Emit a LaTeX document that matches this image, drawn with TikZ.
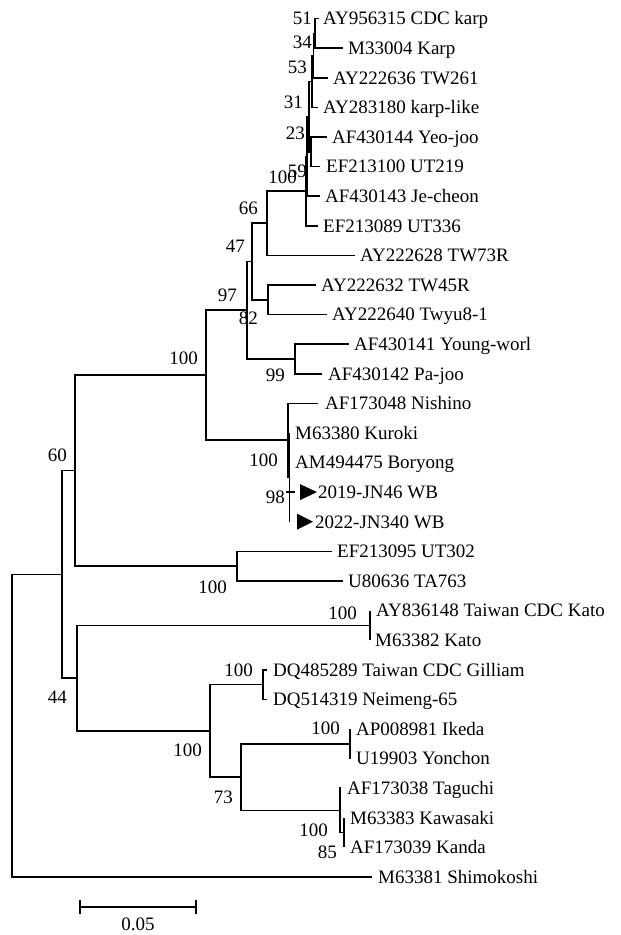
\documentclass[tikz,border=0pt]{standalone}
\usepackage{fontspec}
\setmainfont{Liberation Serif}
\begin{document}
\begin{tikzpicture}[x=1pt,y=-1pt,
  br/.style={line width=1.6pt, line join=miter},
  lab/.style={anchor=base west, yshift=-6.3pt, inner sep=0pt, font=\fontsize{19}{22}\selectfont},
  bs/.style={anchor=base east, yshift=-6.3pt, inner sep=0pt, font=\fontsize{19}{22}\selectfont},
  tri/.style={fill=black}]
\useasboundingbox (0,0) rectangle (621,935);
% internal nodes
\coordinate (root) at (12,725.6);
\coordinate (nA) at (62,574.4);
\coordinate (n60) at (75,470.6);
\coordinate (n100a) at (206,375.1);
\coordinate (n97) at (247,310.2);
\coordinate (n47) at (252,261.4);
\coordinate (n66) at (267,223.2);
\coordinate (n100t) at (306,191.0);
\coordinate (n59) at (307,156.3);
\coordinate (n31) at (309,116.55);
\coordinate (n53) at (312,81.4);
\coordinate (n34) at (313.5,55.5);
\coordinate (n51) at (315,33.3);
\coordinate (n23) at (311,151.7);
\coordinate (n82) at (268,299.7);
\coordinate (npj) at (295,358.9);
\coordinate (nbo) at (288,440);
\coordinate (nin) at (289.5,477);
\coordinate (nut) at (237,566.1);
\coordinate (n44) at (77,678.1);
\coordinate (nka) at (370,625.3);
\coordinate (ngG) at (210,730.9);
\coordinate (ngi) at (263,684.5);
\coordinate (n73) at (241,777);
\coordinate (nik) at (350,743.7);
\coordinate (ntg) at (340,810.3);
\coordinate (nkw) at (344,832.5);
% tips
\coordinate (t1) at (319,18.5);
\coordinate (t2) at (343,48.1);
\coordinate (t3) at (328,77.7);
\coordinate (t4) at (318,107.3);
\coordinate (t5) at (327,136.9);
\coordinate (t6) at (320,166.5);
\coordinate (t7) at (320,196.1);
\coordinate (t8) at (318,225.7);
\coordinate (t9) at (355,255.3);
\coordinate (t10) at (316,284.9);
\coordinate (t11) at (327,314.5);
\coordinate (t12) at (349,344.1);
\coordinate (t13) at (322,373.7);
\coordinate (t14) at (318,403.3);
\coordinate (t15) at (289.5,432.9);
\coordinate (t16) at (289.5,462.5);
\coordinate (t17) at (295,492.1);
\coordinate (k17) at (286,492.1);
\coordinate (t18) at (289.5,521.7);
\coordinate (t19) at (332,551.3);
\coordinate (t20) at (343,580.9);
\coordinate (t21) at (370,610.5);
\coordinate (t22) at (370,640.1);
\coordinate (t23) at (267,669.7);
\coordinate (t24) at (267,699.3);
\coordinate (t25) at (350,728.9);
\coordinate (t26) at (350,758.5);
\coordinate (t27) at (341,788.1);
\coordinate (t28) at (344,817.7);
\coordinate (t29) at (344,847.3);
\coordinate (t30) at (372,876.9);
% branches
\draw[br] (root) |- (nA); \draw[br] (root) |- (t30);
\draw[br] (nA) |- (n60); \draw[br] (nA) |- (n44);
\draw[br] (n60) |- (n100a); \draw[br] (n60) |- (nut);
\draw[br] (n100a) |- (n97); \draw[br] (n100a) |- (nbo);
\draw[br] (n97) |- (n47); \draw[br] (n97) |- (npj);
\draw[br] (n47) |- (n66); \draw[br] (n47) |- (n82);
\draw[br] (n66) |- (n100t); \draw[br] (n66) |- (t9);
\draw[br] (n100t) |- (n59); \draw[br] (n100t) |- (t8);
\draw[br] (n59) |- (n31); \draw[br] (n59) |- (t7);
\draw[br] (n31) |- (n53); \draw[br] (n31) |- (n23);
\draw[br] (n53) |- (n34); \draw[br] (n53) |- (t4);
\draw[br] (n34) |- (n51); \draw[br] (n34) |- (t3);
\draw[br] (n51) |- (t1); \draw[br] (n51) |- (t2);
\draw[br] (n23) |- (t5); \draw[br] (n23) |- (t6);
\draw[br] (n82) |- (t10); \draw[br] (n82) |- (t11);
\draw[br] (npj) |- (t12); \draw[br] (npj) |- (t13);
\draw[br] (nbo) |- (t14); \draw[br] (nbo) |- (nin);
\draw[br] (nin) |- (t15); \draw[br] (nin) |- (t16);
\draw[br] (nin) |- (t17); \draw[br] (nin) |- (t18);
\draw[br] (k17) -- (t17);
\draw[br] (nut) |- (t19); \draw[br] (nut) |- (t20);
\draw[br] (n44) |- (nka); \draw[br] (n44) |- (ngG);
\draw[br] (nka) |- (t21); \draw[br] (nka) |- (t22);
\draw[br] (ngG) |- (ngi); \draw[br] (ngG) |- (n73);
\draw[br] (ngi) |- (t23); \draw[br] (ngi) |- (t24);
\draw[br] (n73) |- (nik); \draw[br] (n73) |- (ntg);
\draw[br] (nik) |- (t25); \draw[br] (nik) |- (t26);
\draw[br] (ntg) |- (t27); \draw[br] (ntg) |- (nkw);
\draw[br] (nkw) |- (t28); \draw[br] (nkw) |- (t29);
% leaf labels
\node[lab] (L1) at (323,18.5) {AY956315 CDC karp};
\node[lab] (L2) at (348,48.1) {M33004 Karp};
\node[lab] (L3) at (333,77.7) {AY222636 TW261};
\node[lab] (L4) at (323,107.3) {AY283180 karp-like};
\node[lab] (L5) at (332,136.9) {AF430144 Yeo-joo};
\node[lab] (L6) at (326,166.5) {EF213100 UT219};
\node[lab] (L7) at (325,196.1) {AF430143 Je-cheon};
\node[lab] (L8) at (323,225.7) {EF213089 UT336};
\node[lab] (L9) at (360,255.3) {AY222628 TW73R};
\node[lab] (L10) at (321,284.9) {AY222632 TW45R};
\node[lab] (L11) at (332,314.5) {AY222640 Twyu8-1};
\node[lab] (L12) at (354,344.1) {AF430141 Young-worl};
\node[lab] (L13) at (328,373.7) {AF430142 Pa-joo};
\node[lab] (L14) at (325,403.3) {AF173048 Nishino};
\node[lab] (L15) at (295,432.9) {M63380 Kuroki};
\node[lab] (L16) at (295,462.5) {AM494475 Boryong};
\node[lab] (L17) at (318,492.1) {2019-JN46 WB};
\node[lab] (L18) at (315,521.7) {2022-JN340 WB};
\node[lab] (L19) at (337,551.3) {EF213095 UT302};
\node[lab] (L20) at (348,580.9) {U80636 TA763};
\node[lab] (L21) at (376,610.5) {AY836148 Taiwan CDC Kato};
\node[lab] (L22) at (375,640.1) {M63382 Kato};
\node[lab] (L23) at (273,669.7) {DQ485289 Taiwan CDC Gilliam};
\node[lab] (L24) at (273,699.3) {DQ514319 Neimeng-65};
\node[lab] (L25) at (356,728.9) {AP008981 Ikeda};
\node[lab] (L26) at (356,758.5) {U19903 Yonchon};
\node[lab] (L27) at (347,788.1) {AF173038 Taguchi};
\node[lab] (L28) at (350,817.7) {M63383 Kawasaki};
\node[lab] (L29) at (350,847.3) {AF173039 Kanda};
\node[lab] (L30) at (378,876.9) {M63381 Shimokoshi};
% markers
\fill[tri] (300,484.1) -- (317,492.1) -- (300,500.1) -- cycle;
\fill[tri] (297,513.7) -- (313,521.7) -- (297,529.7) -- cycle;
% bootstrap values
\node[bs] (b51) at (312,18) {51};
\node[bs] (b34) at (312,42) {34};
\node[bs] (b53) at (307,67) {53};
\node[bs] (b31) at (303,102) {31};
\node[bs] (b23) at (305,133) {23};
\node[bs] (b100t) at (297,177) {100};
\node[bs] (b59) at (307,171) {59};
\node[bs] (b66) at (258,208) {66};
\node[bs] (b47) at (245,246) {47};
\node[bs] (b97) at (237,295) {97};
\node[bs] (b82) at (258,318) {82};
\node[bs] (b99) at (285,375) {99};
\node[bs] (b100a) at (198,358) {100};
\node[bs] (b100b) at (278,460) {100};
\node[bs] (b98) at (285,497) {98};
\node[bs] (b60) at (67,455) {60};
\node[bs] (b100u) at (227,587) {100};
\node[bs] (b44) at (67,697) {44};
\node[bs] (b100k) at (357,613) {100};
\node[bs] (b100g) at (253,670) {100};
\node[bs] (b100gi) at (202,750) {100};
\node[bs] (b100i) at (340,728) {100};
\node[bs] (b73) at (233,797) {73};
\node[bs] (b100tg) at (328,830) {100};
\node[bs] (b85) at (337,852) {85};
% scale bar
\coordinate (sb1) at (80,907);
\coordinate (sb2) at (196,907);
\draw[br] (sb1) -- (sb2);
\draw[br] ([yshift=7pt]sb1) -- ([yshift=-7pt]sb1);
\draw[br] ([yshift=7pt]sb2) -- ([yshift=-7pt]sb2);
\node[anchor=base, inner sep=0pt, font=\fontsize{19}{22}\selectfont] (sbl) at (138,930) {0.05};
\end{tikzpicture}
\end{document}
